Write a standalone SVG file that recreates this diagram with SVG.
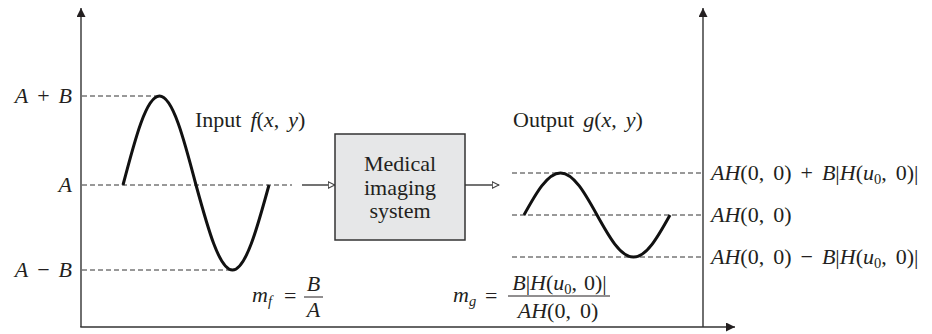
<svg xmlns="http://www.w3.org/2000/svg" width="932" height="334" viewBox="0 0 932 334">
  <style>
    text { font-family: "Liberation Serif", "DejaVu Serif", serif; font-size: 22px; fill: #231f20; word-spacing: 3.5px; }
    .i { font-style: italic; }
    .sub { font-size: 14.5px; }
    .tight { word-spacing: 1.5px; }
    .axis { stroke: #333; stroke-width: 1.4; fill: none; }
    .dash { stroke: #333; stroke-width: 1; stroke-dasharray: 5 3; fill: none; }
    .wave { stroke: #111; stroke-width: 3; fill: none; stroke-linecap: butt; }
    .flow { stroke: #444; stroke-width: 1.4; fill: none; }
    .bar { stroke: #231f20; stroke-width: 1; }
  </style>
  <defs>
    <marker id="solidHead" viewBox="0 0 10 10" refX="10" refY="5" markerWidth="10" markerHeight="9" markerUnits="userSpaceOnUse" orient="auto">
      <path d="M0,0 L10,5 L0,10 Z" fill="#231f20"/>
    </marker>
    <marker id="openHead" viewBox="0 0 8 8" refX="7.5" refY="4" markerWidth="8" markerHeight="8" markerUnits="userSpaceOnUse" orient="auto">
      <path d="M0.7,0.8 L7.3,4 L0.7,7.2 Z" fill="#fff" stroke="#444" stroke-width="1.2"/>
    </marker>
  </defs>

  <!-- axes and signal-flow arrows -->
  <g id="connectors">
    <line class="axis" x1="81" y1="327" x2="81" y2="8" marker-end="url(#solidHead)"/>
    <line class="axis" x1="80.3" y1="327" x2="735" y2="327" marker-end="url(#solidHead)"/>
    <line class="axis" x1="703" y1="327" x2="703" y2="8" marker-end="url(#solidHead)"/>
    <line class="flow" x1="302" y1="185" x2="335" y2="185" marker-end="url(#openHead)"/>
    <line class="flow" x1="465" y1="185" x2="499" y2="185" marker-end="url(#openHead)"/>
  </g>

  <!-- input signal f(x, y) -->
  <g id="input-signal">
    <line class="dash" x1="82" y1="96" x2="160" y2="96"/>
    <line class="dash" x1="82" y1="185" x2="292" y2="185"/>
    <line class="dash" x1="82" y1="270" x2="232" y2="270"/>
    <path class="wave" d="M123,185 C134.9,139.4 146.3,96 159.5,96 C172.7,96 184.1,139.4 196,185 C207.9,228.5 219.3,270 232.5,270 C245.7,270 257.1,228.5 269,185"/>
    <text x="72" y="103" text-anchor="end"><tspan class="i">A</tspan> + <tspan class="i">B</tspan></text>
    <text x="72" y="192" text-anchor="end" class="i">A</text>
    <text x="72" y="277" text-anchor="end"><tspan class="i">A</tspan> − <tspan class="i">B</tspan></text>
    <text x="195" y="127">Input <tspan class="i">f</tspan>(<tspan class="i">x</tspan>, <tspan class="i">y</tspan>)</text>
    <text x="252" y="302" class="i">m<tspan class="sub" dy="4">f</tspan></text>
    <text x="284" y="303">=</text>
    <text x="313.5" y="291" text-anchor="middle" class="i">B</text>
    <line class="bar" x1="304" y1="297" x2="323" y2="297"/>
    <text x="313.5" y="317" text-anchor="middle" class="i">A</text>
  </g>

  <!-- imaging system block -->
  <g id="imaging-system">
    <rect x="335" y="134" width="130" height="106" fill="#e6e7e8" stroke="#333" stroke-width="1.5"/>
    <text x="400" y="171" text-anchor="middle">Medical</text>
    <text x="400" y="195" text-anchor="middle">imaging</text>
    <text x="400" y="218" text-anchor="middle">system</text>
  </g>

  <!-- output signal g(x, y) -->
  <g id="output-signal">
    <line class="dash" x1="512" y1="173" x2="703" y2="173"/>
    <line class="dash" x1="512" y1="215" x2="703" y2="215"/>
    <line class="dash" x1="512" y1="257" x2="703" y2="257"/>
    <path class="wave" d="M524,215 C535.9,193.5 547.3,173 560.5,173 C573.7,173 585.1,193.5 597,215 C608.9,236.5 620.3,257 633.5,257 C646.7,257 658.1,236.5 670,215"/>
    <text x="513" y="127">Output <tspan class="i">g</tspan>(<tspan class="i">x</tspan>, <tspan class="i">y</tspan>)</text>
    <text x="711" y="180"><tspan class="i">AH</tspan>(0, 0) + <tspan class="i">B</tspan>|<tspan class="i">H</tspan>(<tspan class="i">u</tspan><tspan class="sub" dy="4">0</tspan><tspan dy="-4">, 0)|</tspan></text>
    <text x="711" y="222"><tspan class="i">AH</tspan>(0, 0)</text>
    <text x="711" y="264"><tspan class="i">AH</tspan>(0, 0) − <tspan class="i">B</tspan>|<tspan class="i">H</tspan>(<tspan class="i">u</tspan><tspan class="sub" dy="4">0</tspan><tspan dy="-4">, 0)|</tspan></text>
    <text x="453" y="302" class="i">m<tspan class="sub" dy="4">g</tspan></text>
    <text x="485" y="303">=</text>
    <text x="559.5" y="290" text-anchor="middle" class="tight"><tspan class="i">B</tspan>|<tspan class="i">H</tspan>(<tspan class="i">u</tspan><tspan class="sub" dy="4">0</tspan><tspan dy="-4">, 0)|</tspan></text>
    <line class="bar" x1="508" y1="296" x2="610" y2="296"/>
    <text x="558" y="318" text-anchor="middle"><tspan class="i">AH</tspan>(0, 0)</text>
  </g>
</svg>
